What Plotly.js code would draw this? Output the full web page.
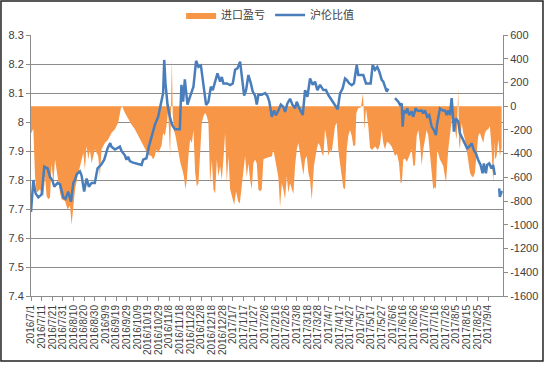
<!DOCTYPE html>
<html>
<head>
<meta charset="utf-8">
<script src="https://cdn.plot.ly/plotly-3.0.1.min.js"></script>
<style>
html,body{margin:0;padding:0;background:#fff;}
#chart{width:546px;height:365px;}
</style>
</head>
<body>
<div id="chart"></div>
<script>
// x positions: days since 2016/7/1
const tickLabels = ["2016/7/1","2016/7/11","2016/7/21","2016/7/31","2016/8/10","2016/8/20","2016/8/30","2016/9/9","2016/9/19","2016/9/29","2016/10/9","2016/10/19","2016/10/29","2016/11/8","2016/11/18","2016/11/28","2016/12/8","2016/12/18","2016/12/28","2017/1/7","2017/1/17","2017/1/27","2017/2/6","2017/2/16","2017/2/26","2017/3/8","2017/3/18","2017/3/28","2017/4/7","2017/4/17","2017/4/27","2017/5/7","2017/5/17","2017/5/27","2017/6/6","2017/6/16","2017/6/26","2017/7/6","2017/7/16","2017/7/26","2017/8/5","2017/8/15","2017/8/25","2017/9/4"];
const tickDays = [0,10,20,30,40,50,60,70,80,90,100,110,120,130,140,150,160,170,180,190,200,210,220,230,240,250,260,270,280,290,300,310,320,330,340,350,360,370,380,390,400,410,420,430];

// 沪伦比值 (left axis)
const ratioDays = [0,2.2,4.3,6.9,10,12.5,15.6,17.9,20,21.9,25,27.3,30.4,32.5,35,37.6,39.8,41.4,42.9,46,47.6,50,52.3,54.5,57,60,62.6,65.8,68.9,72,74.5,75.7,79,81.4,83.6,85.1,88.3,89.8,91.4,93,96,100.8,104,105.5,108.6,110.9,114,116.5,119.6,122.2,124.3,125.3,126.5,128.4,130.6,132.8,135.3,138.7,140,141.5,143.1,144.7,147.2,149.4,152.8,155.3,157.5,159.8,162.2,164.7,166.9,169.2,171,173.2,175.4,177.9,179.5,181,184.2,187.3,189.8,192,194.2,196.7,198.9,200.5,202.3,204.5,206.8,208.6,210.8,212.4,213.9,217.1,220.2,222.4,224.2,226.5,228.7,230.5,232.7,235,237.4,239,241.2,243.7,245.9,248.4,250,252.4,255.6,257.8,260,262.5,265,267.2,269.4,271.9,275,277.5,279.7,282.9,286,288.5,290.7,293.2,295.4,297,299.4,301.7,303.8,306.4,307.9,310.1,312.6,315.1,317.3,319.5,321.4,323.6,325.7,327.6,329.9,331.4,333,334.6,336.1,338,342.4,345.5,347.1,348.7,349.6,350.8,352.7,353.9,355.8,358.1,359.6,361.8,363.3,365.2,367.5,369,370.6,372.7,374.6,376.9,379,380.9,382.1,384.7,387.2,389.4,391,392.4,394.1,395.7,396.6,397.8,399.7,401.9,403.5,406,408.2,410.3,412.2,414.5,416.6,418.5,420.7,422.9,424.8,426,427.9,429.1,431,433.2,434.7,436.3,437.5,440.4,441,442.6,443.7];
const ratioValues = [7.69,7.80,7.754,7.74,7.75,7.846,7.84,7.81,7.80,7.777,7.79,7.785,7.74,7.735,7.76,7.725,7.79,7.80,7.82,7.83,7.815,7.76,7.805,7.777,7.79,7.79,7.84,7.852,7.87,7.909,7.927,7.915,7.905,7.91,7.915,7.90,7.885,7.87,7.88,7.865,7.86,7.855,7.852,7.87,7.875,7.915,7.96,7.99,8.018,8.064,8.10,8.214,8.133,8.06,8.018,7.99,7.975,7.975,7.975,8.128,8.07,8.147,8.06,8.085,8.122,8.211,8.19,8.195,8.122,8.059,8.07,8.122,8.11,8.139,8.168,8.139,8.155,8.133,8.133,8.127,8.133,8.18,8.185,8.208,8.133,8.091,8.11,8.162,8.133,8.105,8.091,8.06,8.094,8.094,8.10,8.09,8.07,8.018,8.04,8.023,8.04,8.06,8.052,8.035,8.064,8.08,8.06,8.047,8.07,8.047,8.024,8.11,8.087,8.15,8.128,8.139,8.11,8.128,8.11,8.11,8.093,8.076,8.06,8.044,8.099,8.116,8.15,8.145,8.133,8.127,8.133,8.197,8.162,8.162,8.162,8.133,8.133,8.133,8.197,8.18,8.19,8.174,8.145,8.139,8.122,8.105,8.115,null,8.082,8.07,8.059,8.064,7.984,8.04,8.03,8.047,8.024,8.036,8.018,8.047,8.04,8.038,8.04,8.03,8.04,8.018,8.024,7.984,7.972,7.955,7.995,8.047,8.04,8.04,8.024,8.04,8.024,8.082,8.04,7.967,8.013,8.001,7.961,7.94,7.921,7.909,7.915,7.926,7.903,7.892,7.869,7.852,7.823,7.857,7.823,7.852,7.857,7.84,7.852,7.817,null,7.771,7.742,7.759,7.759];

// 进口盈亏 (right axis)
const profitDays = [0,2.2,3.8,5.3,8.5,11.6,13.2,14.7,16.3,17.9,19.4,21,22.6,24.1,25.7,27.3,28.8,32,34.4,36.7,38.2,39.8,41.4,43.8,46.1,47.6,49.2,50.7,52.3,53.9,55.4,57,60.1,63.2,64.8,66.3,69.5,72.6,75.7,78.9,82,84.6,85.8,88.3,91.4,94.5,97.7,100.8,103.9,107.1,110.2,113.3,114.9,116.5,118,119.6,122.7,124.3,125.9,127.4,129,130.9,131.9,132.5,133.3,134.4,135.9,137.5,139.1,140.6,142.2,143.8,145.3,146.6,148.1,149.7,151.3,152.8,154.4,156,157.5,159.1,160.7,162.2,163.8,165.4,166.9,168.5,170.1,171.6,173.2,174.8,176.3,177.9,179.5,181,182.6,184.2,185.7,187.3,189.2,191.1,192.9,194.8,196.4,198.3,199.8,201.4,203,204.5,206.1,207.7,209.2,210.8,212.4,213.9,215.5,217.1,218.6,220.2,223.3,226.5,228,229.6,231.2,232.7,234.3,235.9,237.4,239,240.6,242.1,243.7,245.3,246.8,248.4,250,251.5,253.1,254.7,256.2,257.8,259.4,260.9,262.5,264.1,266.2,268.8,270.3,271.9,273.5,275,276.6,278.2,279.7,281.3,282.9,284.4,286,287.6,289.1,290.7,292.3,293.8,295.4,297,298.5,300.1,301.7,303.2,305.1,306,307.6,310.4,312.3,313.7,315.1,317.3,318.9,320.8,323.6,326.4,328.3,329.9,331.4,333,334.8,336.7,339.3,340.8,342.4,344.3,346.2,347.7,348.9,350.2,351.8,353.6,355.5,358.1,359.6,361.2,362.8,364.3,365.9,367.5,369,370.6,372.2,373.7,375.3,376.9,378.4,380,380.9,382.1,384.7,387.8,390.4,392.5,394.1,395.7,397.2,398.8,400.4,401.9,402.6,403.5,405.1,406.6,408.2,409.8,411.3,412.9,414.5,416,417.6,419.2,420.7,422.3,423.9,425.4,427,428.6,430.1,431.7,433.3,434.8,435.8,436.4,438,439.6,441.1,442.7];
const profitValues = [-230,-190,-590,-730,-700,-760,-590,-760,-785,-770,-480,-650,-450,-535,-650,-730,-785,-800,-870,-840,-1000,-840,-700,-590,-505,-450,-395,-535,-335,-450,-365,-480,-365,-420,-590,-365,-310,-280,-225,-195,-140,-15,0,-55,-110,-155,-195,-250,-310,-365,-410,-420,-450,-420,-365,-395,-335,-225,-250,-170,-40,-420,-30,400,-60,-200,-250,-335,-420,-480,-530,-590,-700,-620,-420,-280,-310,-200,-560,-675,-650,-365,-140,-85,-55,-85,-140,-650,-450,-700,-735,-450,-590,-505,-620,-450,-225,-650,-420,-700,-760,-830,-720,-800,-820,-650,-505,-420,-600,-480,-620,-700,-480,-450,-480,-700,-720,-700,-450,-440,-430,-425,-365,-450,-500,-600,-850,-650,-700,-785,-590,-730,-650,-700,-740,-505,-365,-310,-390,-480,-580,-450,-420,-560,-620,-790,-500,-365,-310,-335,-395,-420,-195,-280,-420,-365,-390,-280,-170,-140,-365,-480,-590,-690,-700,-365,-250,-200,-250,-335,-330,-60,-20,-10,110,-200,-20,-170,-350,-370,-340,-370,-320,-200,-310,-365,-300,-310,-340,-390,-420,-400,-480,-650,-640,-450,-440,-470,-420,-365,-500,-500,-250,-200,-310,-500,-365,-280,-200,-250,-400,-600,-700,-680,-700,-365,-450,-505,-645,-365,-225,-85,-10,-200,-280,150,-300,-365,-140,-225,-280,-365,-450,-560,-590,-600,-560,-365,-250,-225,-280,-310,-225,-200,-195,-170,-365,-650,-300,-450,-420,-280,-420,-350];

const leftTicks = [7.4,7.5,7.6,7.7,7.8,7.9,8.0,8.1,8.2,8.3];
const leftTickText = ["7.4","7.5","7.6","7.7","7.8","7.9","8","8.1","8.2","8.3"];
const rightTicks = [-1600,-1400,-1200,-1000,-800,-600,-400,-200,0,200,400,600];
const rightTickText = ["-1600","-1400","-1200","-1000","-800","-600","-400","-200","0","200","400","600"];

const textColor = '#404040';
const axisColor = '#8c8c8c';

const traces = [
  {
    x: profitDays, y: profitValues, name: '进口盈亏', type: 'scatter', mode: 'lines',
    fill: 'tozeroy', fillcolor: '#F79646', line: {width: 0, color: '#F79646'},
    yaxis: 'y', hoverinfo: 'skip'
  },
  {
    x: ratioDays, y: ratioValues, name: '沪伦比值', type: 'scatter', mode: 'lines',
    line: {width: 2.5, color: '#4A7EBB'}, connectgaps: false,
    yaxis: 'y2', hoverinfo: 'skip'
  }
];

const layout = {
  width: 546, height: 365,
  margin: {l: 31, r: 43, t: 35, b: 69, pad: 0, autoexpand: false},
  paper_bgcolor: '#fff', plot_bgcolor: '#fff',
  font: {family: 'Liberation Sans, Arial, sans-serif', size: 11, color: textColor},
  showlegend: true,
  legend: {
    orientation: 'h', x: 0.318, xanchor: 'left', y: 1.077, yanchor: 'middle',
    font: {family: 'Noto Sans CJK SC, sans-serif', size: 11, color: textColor},
    itemwidth: 30, tracegroupgap: 0, bgcolor: 'rgba(0,0,0,0)'
  },
  xaxis: {
    range: [0, 444], tickvals: tickDays, ticktext: tickLabels, tickangle: -90,
    tickfont: {size: 10, color: textColor}, ticks: 'outside', ticklen: 4, tickcolor: axisColor,
    showline: true, linecolor: axisColor, linewidth: 1, showgrid: false, zeroline: false, fixedrange: true,
    automargin: false
  },
  yaxis: {
    range: [-1600, 600], side: 'right', tickvals: rightTicks, ticktext: rightTickText,
    ticks: 'outside', ticklen: 4, tickcolor: axisColor, showline: true, linecolor: axisColor,
    showgrid: false, zeroline: false, tickfont: {size: 11, color: textColor}, fixedrange: true,
    automargin: false
  },
  yaxis2: {
    range: [7.4, 8.3], overlaying: 'y', side: 'left', tickvals: leftTicks, ticktext: leftTickText,
    ticks: 'outside', ticklen: 4, tickcolor: axisColor, showline: true, linecolor: axisColor,
    showgrid: true, gridcolor: axisColor, gridwidth: 1, zeroline: false,
    tickfont: {size: 11, color: textColor}, fixedrange: true, automargin: false
  },
  shapes: [
    {type: 'rect', xref: 'paper', yref: 'paper', x0: -0.0636, x1: 1.0847, y0: -0.249, y1: 1.13,
     line: {color: '#222', width: 1.5}, fillcolor: 'rgba(0,0,0,0)', layer: 'above'}
  ]
};

Plotly.newPlot('chart', traces, layout, {staticPlot: true, displayModeBar: false});
</script>
</body>
</html>
